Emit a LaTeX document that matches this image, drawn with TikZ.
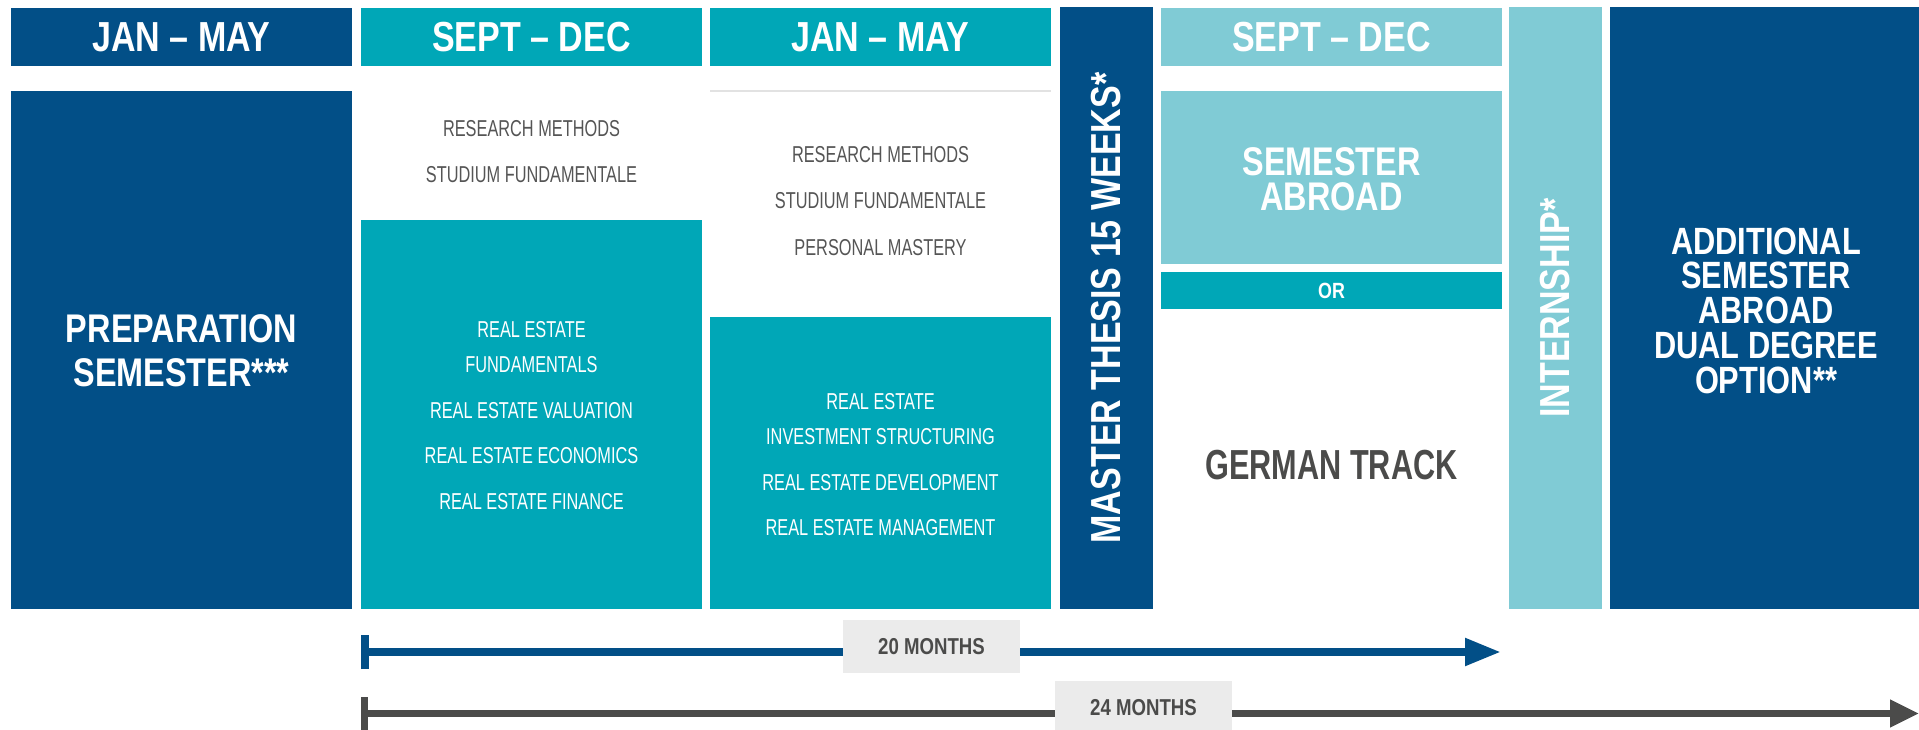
\documentclass[tikz,border=0pt]{standalone}
\usepackage{fontspec}
\setmainfont{Liberation Sans}
\newfontfamily\hbc{Liberation Sans}[FakeStretch=0.81]
\newfontfamily\hbcc{Liberation Sans}[FakeStretch=0.73]
\newfontfamily\lcf{Liberation Sans}[FakeStretch=0.71]
\usetikzlibrary{arrows.meta}
\definecolor{dkblue}{HTML}{024F87}
\definecolor{tealc}{HTML}{00A7B7}
\definecolor{ltteal}{HTML}{80CBD5}
\definecolor{lblgray}{HTML}{EBEBEB}
\definecolor{dkgray}{HTML}{4B4B4A}
\definecolor{crsgray}{HTML}{555555}
\definecolor{linegray}{HTML}{E2E2E2}
\begin{document}
\begin{tikzpicture}[x=1pt,y=-1pt,
  blk/.style={rectangle, inner sep=0pt, outer sep=0pt, anchor=north west, draw=none},
  hdr/.style={text=white, font=\hbc\bfseries\fontsize{42}{42}\selectfont},
  big/.style={anchor=base, inner sep=0pt, text=white, font=\hbc\bfseries\fontsize{40}{40}\selectfont},
  add/.style={anchor=base, inner sep=0pt, text=white, font=\hbc\bfseries\fontsize{38}{38}\selectfont},
  crs/.style={anchor=base, inner sep=0pt, font=\lcf\fontsize{23}{23}\selectfont},
  crsw/.style={crs, text=white},
  crsg/.style={crs, text=crsgray},
  lbl/.style={rectangle, inner sep=0pt, fill=lblgray, minimum width=177pt, minimum height=53pt,
    text=dkgray, font=\hbc\bfseries\fontsize{23}{23}\selectfont},
  vtxt/.style={rotate=90, inner sep=0pt, text=white, font=\hbc\bfseries\fontsize{42}{42}\selectfont}
]
\useasboundingbox (0,0) rectangle (1919,730);

% headers
\node[blk, fill=dkblue, minimum width=341pt, minimum height=58pt, hdr] (h1) at (11,8) {JAN – MAY};
\node[blk, fill=tealc, minimum width=341pt, minimum height=58pt, hdr] (h2) at (361,8) {SEPT – DEC};
\node[blk, fill=tealc, minimum width=341pt, minimum height=58pt, hdr] (h3) at (710,8) {JAN – MAY};
\node[blk, fill=ltteal, minimum width=341pt, minimum height=58pt, hdr] (h4) at (1161,8) {SEPT – DEC};

% tall columns
\node[blk, fill=dkblue, minimum width=93pt, minimum height=602pt] (mt) at (1060,7) {};
\node[vtxt] (mtt) at (mt.center) {MASTER THESIS 15 WEEKS*};
\node[blk, fill=ltteal, minimum width=93pt, minimum height=602pt] (in) at (1509,7) {};
\node[vtxt] (int) at (in.center) {INTERNSHIP*};
\node[blk, fill=dkblue, minimum width=309pt, minimum height=602pt] (ad) at (1610,7) {};

% blocks
\node[blk, fill=dkblue, minimum width=341pt, minimum height=518pt] (prep) at (11,91) {};
\node[blk, fill=tealc, minimum width=341pt, minimum height=389pt] (c2t) at (361,220) {};
\node[blk, fill=tealc, minimum width=341pt, minimum height=292pt] (c3t) at (710,317) {};
\node[blk, fill=linegray, minimum width=341pt, minimum height=1.6pt] (c3l) at (710,90) {};
\node[blk, fill=ltteal, minimum width=341pt, minimum height=173pt] (sa) at (1161,91) {};
\node[blk, fill=tealc, minimum width=341pt, minimum height=37pt, text=white,
  font=\hbc\bfseries\fontsize{22}{22}\selectfont] (or) at (1161,272) {OR};

% preparation
\node[big] (p1) at (181.5,342) {PREPARATION};
\node[big] (p2) at (181.5,386) {SEMESTER***};
% semester abroad
\node[big] (s1) at (1331.5,176) {SEMESTER};
\node[big] (s2) at (1331.5,211) {ABROAD};
% german track
\node[anchor=base, inner sep=0pt, text=dkgray, font=\hbcc\bfseries\fontsize{42}{42}\selectfont] (gt) at (1331.5,479) {GERMAN TRACK};
% additional
\node[add] (a1) at (1766,254) {ADDITIONAL};
\node[add] (a2) at (1766,288) {SEMESTER};
\node[add] (a3) at (1766,323) {ABROAD};
\node[add] (a4) at (1766,358) {DUAL DEGREE};
\node[add] (a5) at (1766,393) {OPTION**};

% column 2 courses
\node[crsg] (c2a) at (531.5,137) {RESEARCH METHODS};
\node[crsg] (c2b) at (531.5,183) {STUDIUM FUNDAMENTALE};
\node[crsw] (c2c) at (531.5,337) {REAL ESTATE};
\node[crsw] (c2d) at (531.5,372) {FUNDAMENTALS};
\node[crsw] (c2e) at (531.5,418) {REAL ESTATE VALUATION};
\node[crsw] (c2f) at (531.5,463) {REAL ESTATE ECONOMICS};
\node[crsw] (c2g) at (531.5,509) {REAL ESTATE FINANCE};

% column 3 courses
\node[crsg] (c3a) at (880.5,163) {RESEARCH METHODS};
\node[crsg] (c3b) at (880.5,209) {STUDIUM FUNDAMENTALE};
\node[crsg] (c3c) at (880.5,255) {PERSONAL MASTERY};
\node[crsw] (c3d) at (880.5,409) {REAL ESTATE};
\node[crsw] (c3e) at (880.5,444) {INVESTMENT STRUCTURING};
\node[crsw] (c3f) at (880.5,490) {REAL ESTATE DEVELOPMENT};
\node[crsw] (c3g) at (880.5,535) {REAL ESTATE MANAGEMENT};

% arrows
\coordinate (a20s) at (361,652);
\coordinate (a20e) at (1501,652);
\draw[line width=8pt, dkblue, {Bar[width=34pt]}-{Triangle[length=36pt,width=26pt]}] (a20s) -- (a20e);
\node[lbl] (l20) at (931.5,646.5) {20 MONTHS};

\coordinate (a24s) at (361,713.5);
\coordinate (a24e) at (1919,713.5);
\draw[line width=7pt, dkgray, {Bar[width=34pt]}-{Triangle[length=29pt,width=26pt]}] (a24s) -- (a24e);
\node[lbl] (l24) at (1143.5,707.5) {24 MONTHS};
\end{tikzpicture}
\end{document}
